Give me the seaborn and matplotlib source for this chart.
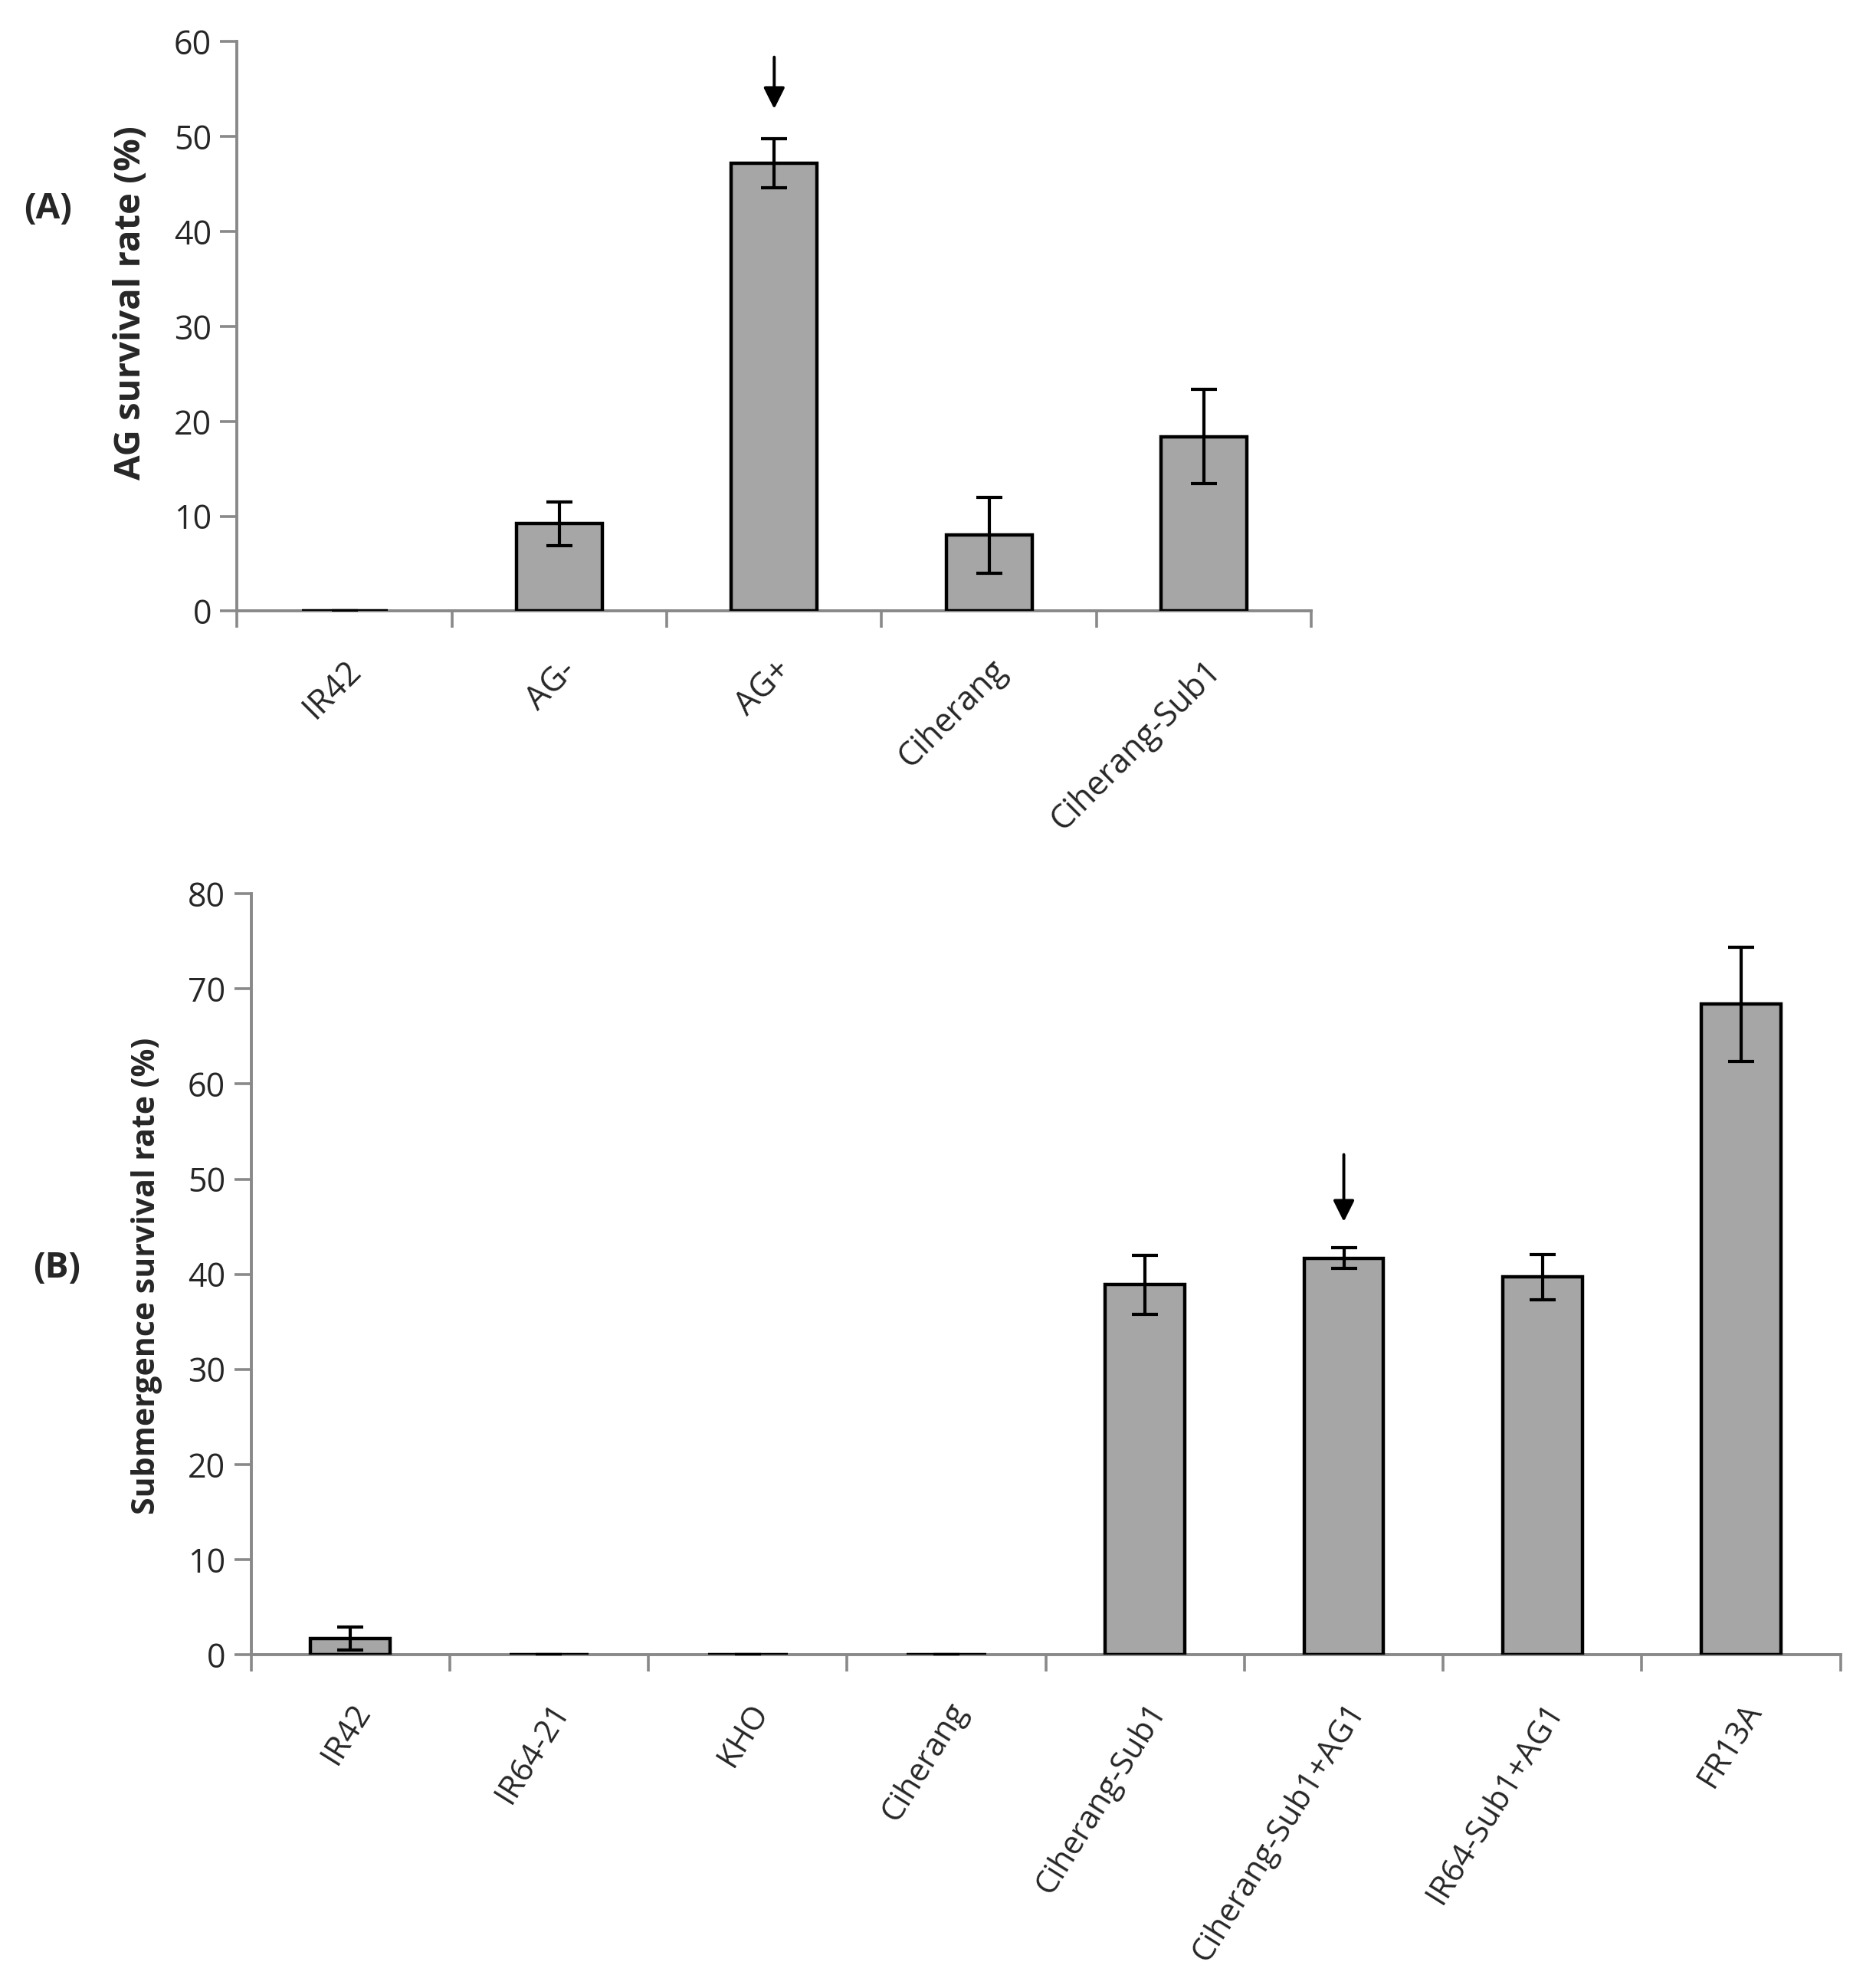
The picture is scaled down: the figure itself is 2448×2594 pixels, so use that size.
import numpy as np
import pandas as pd
import seaborn as sns
import matplotlib.pyplot as plt

# Panel A data
linhas_a = ['IR42', 'AG-', 'AG+', 'Ciherang', 'Ciherang-Sub1']
sobrev_a = [0.0, 9.2, 47.2, 8.0, 18.4]
erro_a = [0.0, 2.3, 2.6, 4.0, 5.0]

# Panel B data
linhas_b = ['IR42', 'IR64-21', 'KHO', 'Ciherang', 'Ciherang-Sub1',
            'Ciherang-Sub1+AG1', 'IR64-Sub1+AG1', 'FR13A']
sobrev_b = [1.7, 0.0, 0.0, 0.0, 38.9, 41.7, 39.7, 68.4]
erro_b = [1.2, 0.0, 0.0, 0.0, 3.1, 1.1, 2.4, 6.0]

sns.set_style('white')
plt.rcParams['font.family'] = ['Open Sans', 'DejaVu Sans']

cor_barra = '#a6a6a6'
cinza = '#898989'
fs = 31

fig = plt.figure(figsize=(24.48, 25.94), dpi=100)
axA = fig.add_axes([0.1264, 0.6926, 0.5726, 0.2864])
axB = fig.add_axes([0.1338, 0.1677, 0.8473, 0.3827])


def desenha(ax, cats, vals, errs, ymax, ylabel, lab_fs, lab_x, lab_y, rot, xfs):
    df = pd.DataFrame({'linha': cats, 'valor': vals})
    sns.barplot(data=df, x='linha', y='valor', order=cats, color=cor_barra,
                saturation=1, width=0.4, edgecolor='black', linewidth=3.2,
                errorbar=None, zorder=3, ax=ax)
    ax.errorbar(np.arange(len(cats)), vals, yerr=errs, fmt='none',
                ecolor='black', elinewidth=3, capsize=12, capthick=3, zorder=4)
    ax.set_xlim(-0.5, len(cats) - 0.5)
    ax.set_ylim(0, ymax)
    ax.set_yticks(np.arange(0, ymax + 1, 10))
    ax.set_xticks(np.arange(len(cats)))
    ax.set_xticks(np.arange(len(cats) + 1) - 0.5, minor=True)
    ax.set_xticklabels(cats, rotation=rot, ha='right', rotation_mode='anchor',
                       fontsize=xfs)
    ax.tick_params(axis='x', which='major', length=0, pad=40)
    ax.tick_params(axis='x', which='minor', length=16, width=2.6, color=cinza,
                   direction='out', bottom=True)
    ax.tick_params(axis='y', length=16, width=2.6, color=cinza, direction='out',
                   left=True, labelsize=fs, pad=8)
    for s in ['top', 'right']:
        ax.spines[s].set_visible(False)
    for s in ['left', 'bottom']:
        ax.spines[s].set_color(cinza)
        ax.spines[s].set_linewidth(2.8)
    ax.set_xlabel('')
    ax.set_ylabel(ylabel, fontsize=lab_fs, fontweight='bold')
    ax.yaxis.set_label_coords(lab_x, lab_y)


desenha(axA, linhas_a, sobrev_a, erro_a, 60, 'AG survival rate (%)',
        34, -0.0825, 0.541, 45, 31)
desenha(axB, linhas_b, sobrev_b, erro_b, 80, 'Submergence survival rate (%)',
        29.5, -0.0558, 0.498, 58, 30)

# setas indicando as linhas destacadas
axA.annotate('', xy=(2, 52.7), xytext=(2, 58.6),
             arrowprops=dict(arrowstyle='-|>', color='black', lw=2.8,
                             mutation_scale=42))
axB.annotate('', xy=(5, 45.3), xytext=(5, 52.8),
             arrowprops=dict(arrowstyle='-|>', color='black', lw=2.8,
                             mutation_scale=42))

fig.text(0.0257, 0.8948, '(A)', fontsize=33, fontweight='bold', ha='center', va='center')
fig.text(0.0304, 0.3622, '(B)', fontsize=33, fontweight='bold', ha='center', va='center')

fig.savefig('out.png', dpi=100)
